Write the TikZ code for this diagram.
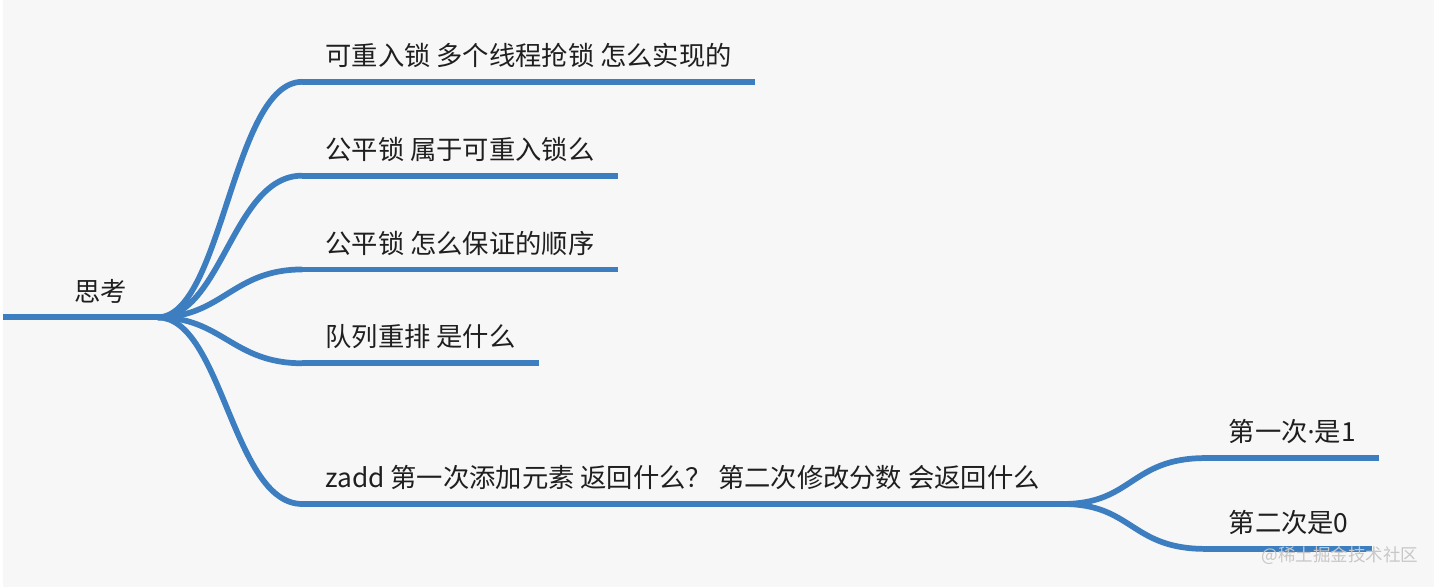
\documentclass[tikz,border=0pt]{standalone}
\usepackage{fontspec}
\setmainfont{Noto Sans CJK SC}
\newfontfamily\latinfont{Noto Sans}
\definecolor{branchblue}{RGB}{60,126,192}
\definecolor{canvas}{RGB}{247,247,247}

\begin{document}
\begin{tikzpicture}[
    x=0.02cm, y=-0.02cm,
    topic/.style={anchor=south west, inner xsep=0.46cm, inner ysep=0.22cm, text height=0.42cm, text depth=0.1cm, text=black!88, font=\fontsize{15pt}{18pt}\selectfont},
    branch/.style={draw=branchblue, line width=0.115cm},
    watermark/.style={anchor=west, text=black!22, font=\fontsize{10pt}{12pt}\selectfont}
]

% Canvas
\fill[canvas] (0,0) rectangle (1434,588);

% Root topic
\coordinate (start) at (0,318);
\node[topic, anchor=south east, inner xsep=0.6cm] (root) at (155,318) {思考};
\draw[branch] (start) -- (root.south east);

% Main topics
\node[topic] (q1) at (300,82) {可重入锁 多个线程抢锁 怎么实现的};
\node[topic] (q2) at (300,176) {公平锁 属于可重入锁么};
\node[topic] (q3) at (300,270) {公平锁 怎么保证的顺序};
\node[topic] (q4) at (300,364) {队列重排 是什么};
\node[topic] (q5) at (300,505) {zadd 第一次添加元素 返回什么？ 第二次修改分数 会返回什么};

\foreach \t in {q1,q2,q3,q4,q5}
{
    \draw[branch] (root.south east) .. controls +(65,0) and +(-70,0) .. (\t.south west);
    \draw[branch] (\t.south west) -- (\t.south east);
}

% Answers to zadd
\node[topic] (a1) at (1205,459) {第一次{\latinfont·}是1};
\node[topic] (a2) at (1205,550) {第二次是0};

\foreach \t in {a1,a2}
{
    \draw[branch] (q5.south east) .. controls +(70,0) and +(-75,0) .. (\t.south west);
    \draw[branch] (\t.south west) -- (\t.south east);
}

% Watermark
\node[watermark] (wm) at (1255,557) {@稀土掘金技术社区};

\end{tikzpicture}
\end{document}
